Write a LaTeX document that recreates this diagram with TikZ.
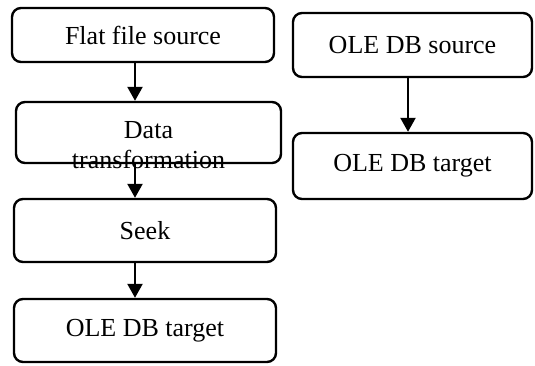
\documentclass[tikz,border=0pt]{standalone}
\usepackage{fontspec}
\setmainfont{Liberation Serif}
\usepackage{tikz}
\usetikzlibrary{arrows.meta, positioning}

\begin{document}
\begin{tikzpicture}[x=1pt, y=1pt,
  box/.style={rectangle, draw=black, line width=2.4pt, rounded corners=9pt,
              inner sep=0pt, text centered, font=\fontsize{26}{30}\selectfont},
  arr/.style={-{Triangle[length=14pt, width=15pt]}, line width=2.4pt},
  lbl/.style={font=\fontsize{26}{30}\selectfont, align=center, inner sep=0pt}
]
  \useasboundingbox (0,0) rectangle (535,365);

  % left column
  \node[box, minimum width=262pt, minimum height=54pt] (flat) at (143,330) {Flat file source};
  \node[box, minimum width=265pt, minimum height=61pt] (trans) at (148.5,232.5) {};
  \node[lbl] (transtxt) at ([yshift=-13pt]trans.center) {Data\\transformation};
  \node[box, minimum width=262pt, minimum height=63pt] (seek) at (145,134.5) {Seek};
  \node[box, minimum width=262pt, minimum height=63pt] (tgt) at (145,34.5) {OLE DB target};

  % right column
  \node[box, minimum width=239pt, minimum height=64pt] (src2) at (412.5,320) {OLE DB source};
  \node[box, minimum width=239pt, minimum height=66pt] (tgt2) at (412.5,199) {OLE DB target};

  \coordinate (lcol) at (135,0);
  \coordinate (rcol) at (408,0);

  \draw[arr] (flat.south -| lcol) -- (trans.north -| lcol);
  \draw[arr] (trans.south -| lcol) -- (seek.north -| lcol);
  \draw[arr] (seek.south -| lcol) -- (tgt.north -| lcol);
  \draw[arr] (src2.south -| rcol) -- (tgt2.north -| rcol);
\end{tikzpicture}
\end{document}
